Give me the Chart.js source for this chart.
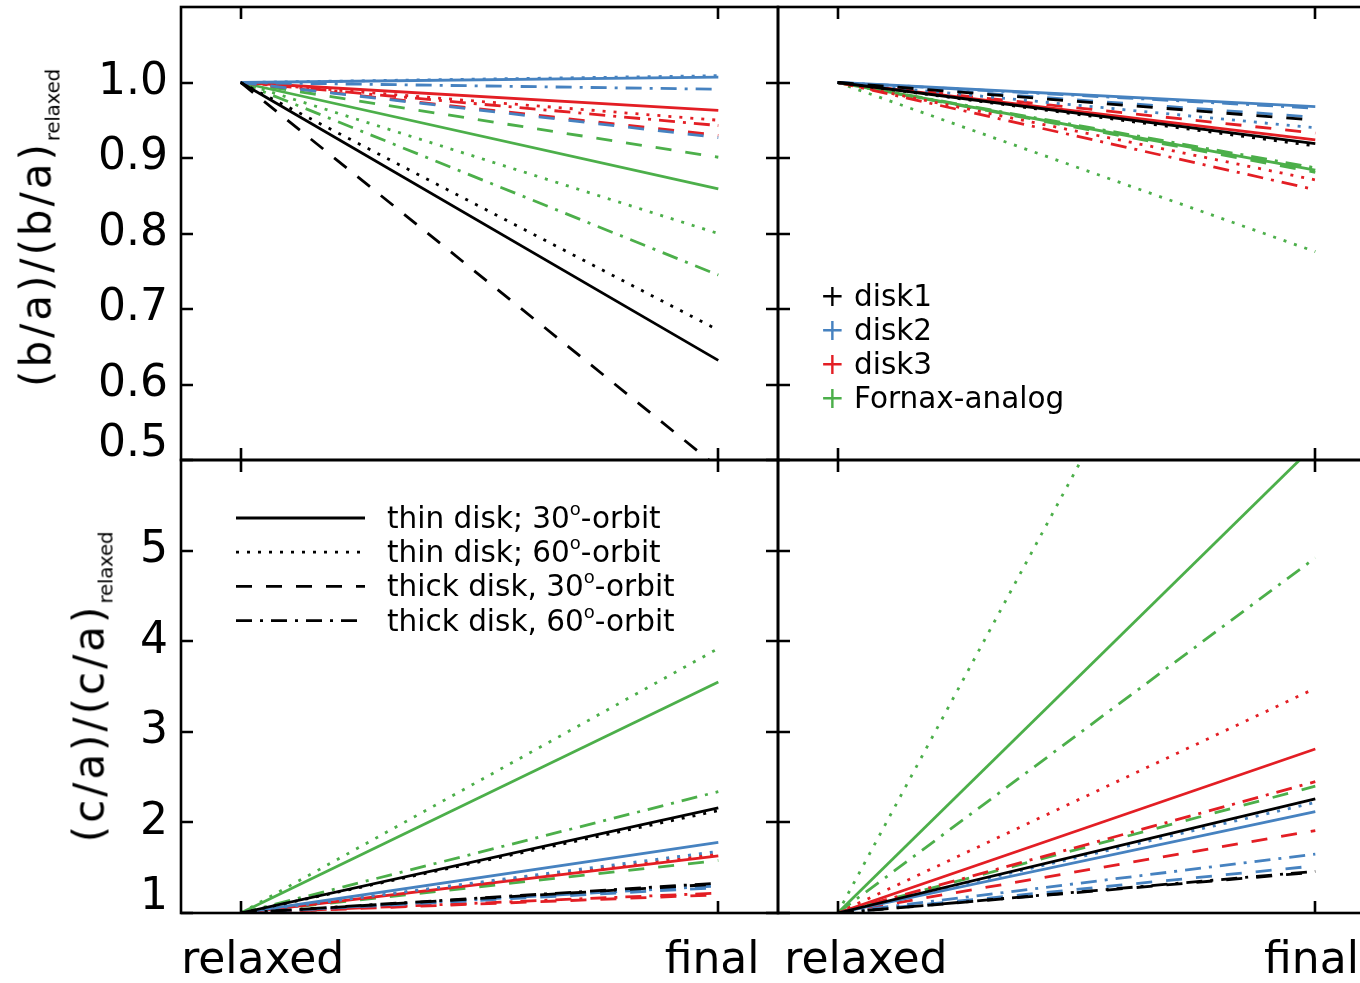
<!DOCTYPE html>
<html>
<head>
<meta charset="utf-8">
<script src="https://cdn.jsdelivr.net/npm/chart.js@4.4.1/dist/chart.umd.min.js"></script>
<style>
  html, body { margin: 0; padding: 0; background: #fff; overflow: hidden; }
  #page { position: relative; width: 1360px; height: 983px; overflow: hidden; font-family: "DejaVu Sans", sans-serif; color: #000; }
  #page canvas { position: absolute; left: 0; top: 0; }
  .ytitle { position: absolute; white-space: nowrap; transform: translate(-50%, -50%) rotate(-90deg); font-size: 42px; letter-spacing: 3px; line-height: 1; }
  .ytitle sub { font-size: 20px; letter-spacing: -0.3px; vertical-align: -0.45em; }
  .leg { position: absolute; white-space: nowrap; font-size: 29.5px; line-height: 34px; }
  .leg sup { font-size: 18px; vertical-align: 0.7em; line-height: 0; }
  .pm { display: inline-block; width: 34px; }
</style>
</head>
<body>
<div id="page">
  <canvas id="ba-left" width="1400" height="983"></canvas>
  <canvas id="ba-right" width="1400" height="983"></canvas>
  <canvas id="ca-left" width="1400" height="983"></canvas>
  <canvas id="ca-right" width="1400" height="983"></canvas>
  <div class="ytitle" style="left:39px; top:228px">(b/a)/(b/a)<sub>relaxed</sub></div>
  <div class="ytitle" style="left:92px; top:687px">(c/a)/(c/a)<sub>relaxed</sub></div>
  <div id="legends"></div>
</div>
<script>
// categories on the x axis
const categories = ['relaxed', 'final'];
const relaxedValue = 1;

const diskNames = ['disk1', 'disk2', 'disk3', 'Fornax-analog'];
const orbitNames = ['thin disk; 30', 'thin disk; 60', 'thick disk, 30', 'thick disk, 60'];

// final values; rows = disk1, disk2, disk3, Fornax-analog
// columns = thin 30°, thin 60°, thick 30°, thick 60° (null = not drawn)
const baFinalLeft = [
  [0.632, 0.672, 0.49, null],
  [1.007, 1.009, 0.927, 0.991],
  [0.963, 0.950, 0.930, 0.943],
  [0.859, 0.800, 0.901, 0.745]
];
const baFinalRight = [
  [0.919, 0.916, 0.950, null],
  [0.968, 0.940, 0.954, 0.966],
  [0.924, 0.871, 0.933, 0.858],
  [0.884, 0.776, 0.881, 0.887]
];
const caFinalLeft = [
  [2.16, 2.13, 1.32, 1.33],
  [1.78, 1.68, 1.28, 1.30],
  [1.63, 1.65, 1.20, 1.22],
  [3.55, 3.92, 1.58, 2.34]
];
const caFinalRight = [
  [2.26, null, 1.45, 1.46],
  [2.12, 2.22, 1.52, 1.65],
  [2.81, 3.48, 1.91, 2.45],
  [6.17, 10.8, 2.40, 4.92]
];

// tick labels
const baTicks = [0.5, 0.6, 0.7, 0.8, 0.9, 1.0];
const caTicks = [1, 2, 3, 4, 5];

// styles
const diskColors = ['#000000', '#4682c0', '#e31e24', '#4caf4a'];
const orbitDash = [[], [3, 8], [16, 14], [16, 8, 3, 8]];
const FONT = 'DejaVu Sans';
const W = 2.8;

function buildDatasets(finals) {
  const sets = [];
  finals.forEach((row, d) => row.forEach((v, o) => {
    if (v === null) return;
    sets.push({
      label: diskNames[d] + ' / ' + orbitNames[o],
      data: [{ x: 0, y: relaxedValue }, { x: 1, y: v }],
      borderColor: diskColors[d],
      borderDash: orbitDash[o],
      borderWidth: W,
      borderCapStyle: 'butt',
      pointRadius: 0,
      tension: 0,
      clip: 0
    });
  }));
  return sets;
}

// frame + inward tick marks, plus the line-style legend
const frameTicks = {
  id: 'frameTicks',
  afterDatasetsDraw(chart, args, opts) {
    const { ctx, chartArea: a, scales: { x, y } } = chart;
    ctx.save();
    ctx.strokeStyle = '#000';
    ctx.lineWidth = 2.6;
    ctx.setLineDash([]);
    ctx.strokeRect(a.left, a.top, a.right - a.left, a.bottom - a.top);
    ctx.beginPath();
    opts.yTicks.forEach(v => {
      const py = Math.round(y.getPixelForValue(v));
      ctx.moveTo(a.left, py); ctx.lineTo(a.left + 12, py);
      ctx.moveTo(a.right, py); ctx.lineTo(a.right - 12, py);
    });
    categories.forEach((c, i) => {
      const px = Math.round(x.getPixelForValue(i));
      ctx.moveTo(px, a.top); ctx.lineTo(px, a.top + 12);
      ctx.moveTo(px, a.bottom); ctx.lineTo(px, a.bottom - 12);
    });
    ctx.stroke();

    if (opts.styleLegend) {
      ctx.lineWidth = W;
      orbitDash.forEach((dash, i) => {
        const ly = 518 + i * 34.2;
        ctx.setLineDash(dash);
        ctx.beginPath();
        ctx.moveTo(236, ly); ctx.lineTo(365, ly);
        ctx.stroke();
      });
    }
    ctx.restore();
  }
};

function tickLabel(list, digits) {
  return v => {
    const t = list.find(t => Math.abs(t - v) < 1e-6);
    if (t === undefined) return '';
    const s = t.toFixed(digits);
    return t === list[0] ? [s, ''] : s;   // lowest label sits above the axis
  };
}

function makePanel(id, finals, p) {
  const yTicks = p.top ? baTicks : caTicks;
  new Chart(document.getElementById(id), {
    type: 'line',
    data: { datasets: buildDatasets(finals) },
    options: {
      responsive: false,
      animation: false,
      events: [],
      layout: { padding: p.padding },
      plugins: {
        legend: { display: false },
        tooltip: { enabled: false },
        frameTicks: { yTicks, styleLegend: !!p.styleLegend }
      },
      scales: {
        x: {
          type: 'linear',
          min: -0.125,
          max: 1.125,
          display: !p.top,
          grid: { display: false, drawTicks: false },
          border: { display: false },
          afterBuildTicks: s => { s.ticks = p.xLabelAt.map(v => ({ value: v })); },
          afterFit: s => {
            s.height = p.top ? 0 : 70;
            s.paddingLeft = 0; s.paddingRight = 0; s.paddingTop = 0; s.paddingBottom = 0;
          },
          ticks: {
            padding: 22,
            maxRotation: 0,
            autoSkip: false,
            color: '#000',
            font: { family: FONT, size: 44 },
            callback: (v, i) => categories[i]
          }
        },
        y: {
          type: 'linear',
          min: p.top ? 0.5 : 1,
          max: p.top ? 1.1 : 6,
          display: p.left,
          grid: { display: false, drawTicks: false },
          border: { display: false },
          afterBuildTicks: s => { s.ticks = yTicks.map(v => ({ value: v })); },
          afterFit: s => {
            s.width = p.left ? 181 : 0;
            s.paddingLeft = 0; s.paddingRight = 0; s.paddingTop = 0; s.paddingBottom = 0;
          },
          ticks: {
            padding: 13,
            autoSkip: false,
            color: '#000',
            font: c => ({
              family: FONT,
              size: 44,
              lineHeight: (c.tick && Math.abs(c.tick.value - yTicks[0]) < 1e-6) ? '31px' : 1.2
            }),
            callback: tickLabel(yTicks, p.top ? 1 : 0)
          }
        }
      }
    },
    plugins: [frameTicks]
  });
}

makePanel('ba-left', baFinalLeft, {
  top: true, left: true, xLabelAt: [0.046, 0.987],
  padding: { left: 0, top: 7, right: 622, bottom: 523 }
});
makePanel('ba-right', baFinalRight, {
  top: true, left: false, xLabelAt: [0.059, 0.992],
  padding: { left: 778, top: 7, right: 25, bottom: 523 }
});
makePanel('ca-left', caFinalLeft, {
  top: false, left: true, xLabelAt: [0.046, 0.987], styleLegend: true,
  padding: { left: 0, top: 460, right: 622, bottom: 0 }
});
makePanel('ca-right', caFinalRight, {
  top: false, left: false, xLabelAt: [0.059, 0.992],
  padding: { left: 778, top: 460, right: 25, bottom: 0 }
});

// legends as text
const legends = document.getElementById('legends');
diskNames.forEach((name, i) => {
  const el = document.createElement('div');
  el.className = 'leg';
  el.style.left = '820px';
  el.style.top = (296 + i * 34 - 17) + 'px';
  el.innerHTML = '<span class="pm" style="color:' + diskColors[i] + '">+</span>' + name;
  legends.appendChild(el);
});
orbitNames.forEach((name, i) => {
  const el = document.createElement('div');
  el.className = 'leg';
  el.style.left = '387px';
  el.style.top = (518 + i * 34.2 - 17) + 'px';
  el.innerHTML = name + '<sup>o</sup>-orbit';
  legends.appendChild(el);
});
</script>
</body>
</html>
